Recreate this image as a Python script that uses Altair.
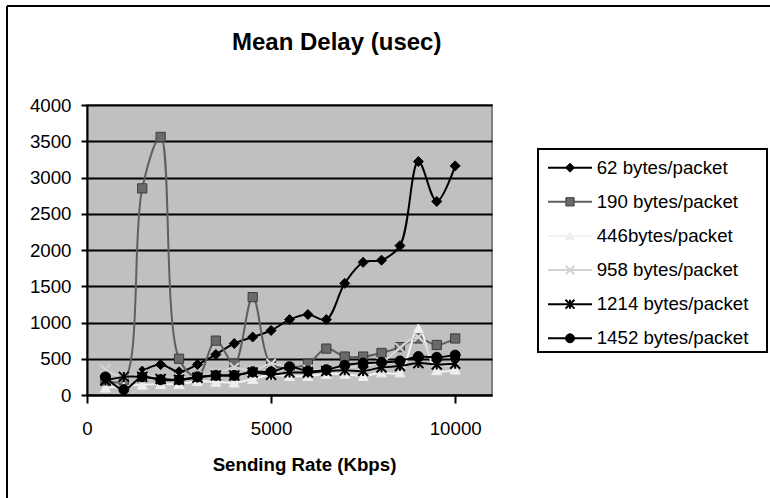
import altair as alt
import pandas as pd

# ---------------- data ----------------
rates = [500, 1000, 1500, 2000, 2500, 3000, 3500, 4000, 4500, 5000,
         5500, 6000, 6500, 7000, 7500, 8000, 8500, 9000, 9500, 10000]
series_names = ["62 bytes/packet", "190 bytes/packet", "446bytes/packet",
                "958 bytes/packet", "1214 bytes/packet", "1452 bytes/packet"]
d62 = [None, None, 330, 420, 320, 420, 560, 710, 800, 890,
       1040, 1110, 1040, 1540, 1830, 1860, 2060, 3220, 2670, 3160]
d190 = [200, 200, 2850, 3560, 500, 250, 750, 430, 1350, 420,
        380, 430, 640, 530, 530, 580, 660, 780, 690, 780]
d446 = [100, 120, 140, 150, 150, 190, 180, 170, 220, 280,
        260, 260, 290, 290, 260, 310, 310, 920, 340, 350]
d958 = [350, 240, 280, 230, 240, 260, 300, 380, 330, 430,
        380, 350, 360, 380, 400, 450, 650, 800, 420, 420]
d1214 = [200, 250, 250, 220, 210, 240, 270, 270, 310, 280,
         310, 310, 330, 340, 330, 380, 400, 440, 420, 430]
d1452 = [250, 75, 250, 210, 210, 250, 270, 270, 320, 320,
         390, 330, 350, 410, 440, 450, 470, 530, 520, 550]
y_ticks = [0, 500, 1000, 1500, 2000, 2500, 3000, 3500, 4000]
x_ticks = [0, 5000, 10000]

all_values = [d62, d190, d446, d958, d1214, d1452]
rows = []
for name, vals in zip(series_names, all_values):
    for r, v in zip(rates, vals):
        if v is not None:
            rows.append({"series": name, "rate": r, "delay": v})
df = pd.DataFrame(rows)
legend_df = pd.DataFrame({"series": series_names, "ord": list(range(len(series_names)))})

# ---------------- styles ----------------
FONT = "Liberation Sans"
XPATH = "M-1,-1L1,1M-1,1L1,-1"
STAR = "M-1,-1L1,1M-1,1L1,-1M0,-1L0,1"
styles = [
    dict(line="#000000", lw=2, shape="diamond", fill="#000000", stroke="#000000", filled=True, size=100),
    dict(line="#5f5f5f", lw=2, shape="square", fill="#6a6a6a", stroke="#3c3c3c", filled=True, size=85),
    dict(line="#f2f2f2", lw=2, shape="triangle-up", fill="#eeeeee", stroke="#eeeeee", filled=True, size=100),
    dict(line="#d4d4d4", lw=2, shape=XPATH, fill="#d4d4d4", stroke="#d4d4d4", filled=False, size=90),
    dict(line="#000000", lw=2, shape=STAR, fill="#000000", stroke="#000000", filled=False, size=100),
    dict(line="#000000", lw=2, shape="circle", fill="#000000", stroke="#000000", filled=True, size=100),
]

X = alt.X("rate:Q", scale=alt.Scale(domain=[0, 11000], nice=False, zero=False),
          axis=alt.Axis(values=x_ticks, grid=False, format="d", tickSize=8, labelPadding=16,
                        title="Sending Rate (Kbps)", titleFontSize=18.7, titleFontWeight="bold",
                        titleFont=FONT, titleX=217, titleY=75, titleAlign="center",
                        titleBaseline="alphabetic", labelFlush=False))
Y = alt.Y("delay:Q", scale=alt.Scale(domain=[0, 4000], nice=False),
          axis=alt.Axis(values=y_ticks, grid=True, format="d", tickSize=6, labelPadding=10,
                        title=None))

main_layers = []
for name, st in zip(series_names, styles):
    base = alt.Chart(df).transform_filter(alt.datum.series == name)
    line = base.mark_line(color=st["line"], strokeWidth=st["lw"],
                          interpolate="catmull-rom").encode(x=X, y=Y)
    if st["filled"]:
        pt = base.mark_point(shape=st["shape"], filled=True, fill=st["fill"], stroke=st["stroke"],
                             strokeWidth=1, size=st["size"], opacity=1).encode(x=X, y=Y)
    else:
        pt = base.mark_point(shape=st["shape"], filled=False, stroke=st["stroke"],
                             strokeWidth=2, size=st["size"], opacity=1).encode(x=X, y=Y)
    main_layers += [line, pt]
main = alt.layer(*main_layers)

# ---------------- legend ----------------
YL = alt.Y("ord:Q", scale=alt.Scale(domain=[0, 5], range=[62.7, 233.3]), axis=None)
box = alt.Chart(legend_df).transform_filter(alt.datum.ord == 0).mark_rect(
    fill="white", stroke="black", strokeWidth=2).encode(
    x=alt.value(451), x2=alt.value(680), y=alt.value(44), y2=alt.value(247))
leg_layers = [box]
for name, st in zip(series_names, styles):
    lb = alt.Chart(legend_df).transform_filter(alt.datum.series == name)
    leg_layers.append(lb.mark_rule(color=st["line"], strokeWidth=st["lw"]).encode(
        x=alt.value(461), x2=alt.value(505), y=YL))
    if st["filled"]:
        leg_layers.append(lb.mark_point(shape=st["shape"], filled=True, fill=st["fill"],
                                        stroke=st["stroke"], strokeWidth=1, size=st["size"] * 0.8,
                                        opacity=1).encode(x=alt.value(483), y=YL))
    else:
        leg_layers.append(lb.mark_point(shape=st["shape"], filled=False, stroke=st["stroke"],
                                        strokeWidth=2, size=st["size"] * 0.8,
                                        opacity=1).encode(x=alt.value(483), y=YL))
    leg_layers.append(lb.mark_text(align="left", baseline="middle", fontSize=18.7, font=FONT,
                                   color="black").encode(x=alt.value(509.7), y=YL, text="series:N"))
legend = alt.layer(*leg_layers)

# ---------------- title & outer frame ----------------
one = pd.DataFrame({"k": [0]})
title = alt.Chart(one).mark_text(text="Mean Delay (usec)", align="left", baseline="alphabetic",
                                 fontSize=24, fontWeight="bold", font=FONT, color="black").encode(
    x=alt.value(145), y=alt.value(-55))
frame_top = alt.Chart(one).mark_rule(color="black", strokeWidth=2).encode(
    x=alt.value(-80), x2=alt.value(700), y=alt.value(-99))
frame_left = alt.Chart(one).mark_rule(color="black", strokeWidth=2).encode(
    x=alt.value(-80), y=alt.value(-99), y2=alt.value(420))

chart = alt.layer(main, legend, title, frame_top, frame_left).resolve_scale(
    y="independent"
).properties(
    width=405, height=290,
    autosize=alt.AutoSizeParams(type="none"),
    padding={"left": 87, "top": 105, "right": 278, "bottom": 103},
    background="white",
).configure_view(
    fill="#c0c0c0", stroke="#808080", strokeWidth=2
).configure_axis(
    domainColor="black", domainWidth=2, tickColor="black", tickWidth=2,
    gridColor="black", gridWidth=2, labelFont=FONT, labelFontSize=18.7, labelColor="black",
    titleColor="black"
)

chart.save("out.html", embed_options={"renderer": "svg", "actions": False})
